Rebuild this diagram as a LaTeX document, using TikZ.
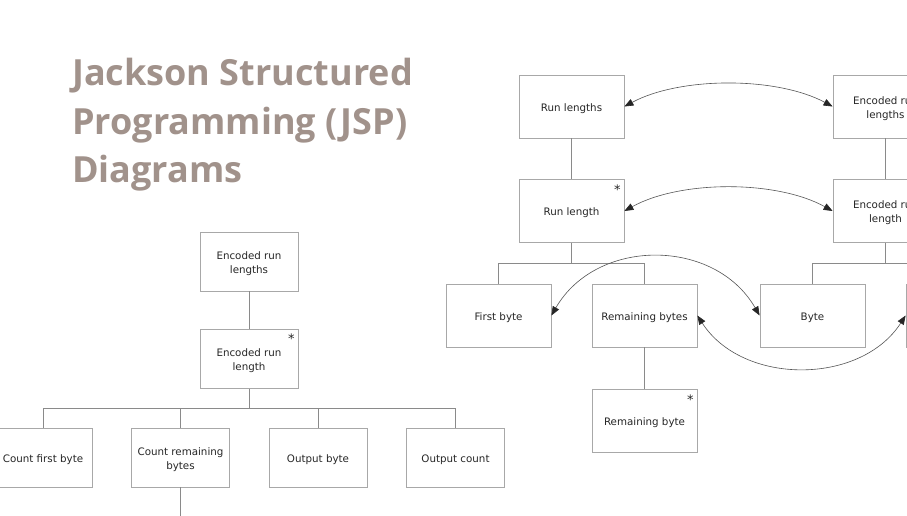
\documentclass[tikz,border=0pt]{standalone}
\usepackage{fontspec}
\setmainfont{DejaVu Sans}
\newfontfamily\titlefont{Open Sans}
\usetikzlibrary{arrows.meta,calc}
\definecolor{titlecol}{HTML}{A1928B}
\definecolor{boxline}{HTML}{A8A8A8}
\definecolor{treeline}{HTML}{8A8A8A}
\definecolor{txt}{HTML}{262626}
\definecolor{linkcol}{HTML}{555555}
\newcommand{\jspup}{\rule{0pt}{11.6pt}}
\begin{document}
\begin{tikzpicture}[x=1pt,y=-1pt,
  jbox/.style={draw=boxline, line width=0.8pt, fill=white, minimum width=105pt, minimum height=63pt, align=center, text=txt, font=\fontsize{10.3}{14}\selectfont, inner sep=0pt},
  lbox/.style={jbox, minimum width=98pt, minimum height=59pt},
  tree/.style={draw=treeline, line width=0.8pt},
  link/.style={draw=linkcol, line width=0.6pt, {Triangle[length=9pt,width=7pt,color=black!85]}-{Triangle[length=9pt,width=7pt,color=black!85]}},
  star/.style={font=\fontsize{13}{13}\selectfont, text=txt, inner sep=0pt},
  title/.style={font=\titlefont\bfseries\fontsize{36}{40}\selectfont, text=titlecol, inner sep=0pt, anchor=base west}]
\useasboundingbox (0,0) rectangle (907,515);
\clip (0,0) rectangle (907,515);
\fill[white] (0,0) rectangle (907,515);

% title
\node[title] (t1) at (72,85) {Jackson Structured};
\node[title] (t2) at (72,134) {Programming (JSP)};
\node[title] (t3) at (72,182) {Diagrams};

% right diagrams
\node[jbox] (rls) at (571.5,106.5) {\jspup Run lengths};
\node[jbox] (erls) at (885.5,106.5) {\jspup Encoded run\\lengths};
\node[jbox] (rl) at (571.5,211) {\jspup Run length};
\node[jbox] (erl) at (885.5,211) {\jspup Encoded run\\length};
\node[jbox] (fb) at (498.5,315.5) {\jspup First byte};
\node[jbox] (rbs) at (644.5,315.5) {\jspup Remaining bytes};
\node[jbox] (rb) at (644.5,420.5) {\jspup Remaining byte};
\node[jbox] (byte) at (812.5,315.5) {\jspup Byte};
\node[jbox] (cnt) at (958.5,315.5) {};

\node[star] (s1) at ($(rl.north east)+(-7,11)$) {*};
\node[star] (s2) at ($(rb.north east)+(-7,11)$) {*};

\coordinate (b1) at (571.5,263);
\coordinate (b2) at (885.5,263);
\draw[tree] (rls.south) -- (rl.north);
\draw[tree] (rl.south) -- (b1);
\draw[tree] (fb.north) |- (b1);
\draw[tree] (rbs.north) |- (b1);
\draw[tree] (rbs.south) -- (rb.north);
\draw[tree] (erls.south) -- (erl.north);
\draw[tree] (erl.south) -- (b2);
\draw[tree] (byte.north) |- (b2);
\draw[tree] (cnt.north) |- (b2);

\draw[link] (rls.east) .. controls +(56,-30) and +(-56,-30) .. (erls.west);
\draw[link] (rl.east) .. controls +(56,-31) and +(-56,-31) .. (erl.west);
\draw[link] (fb.east) .. controls +(45,-78) and +(-45,-78) .. (byte.west);
\draw[link] (rbs.east) .. controls +(45,70) and +(-45,70) .. (cnt.west);

% left diagram
\node[lbox] (lerls) at (249,261.5) {\jspup Encoded run\\lengths};
\node[lbox] (lerl) at (249,359) {\jspup Encoded run\\length};
\node[lbox] (cfb) at (43,457.5) {\jspup Count first byte};
\node[lbox] (crb) at (180.5,457.5) {\jspup Count remaining\\bytes};
\node[lbox] (ob) at (318,457.5) {\jspup Output byte};
\node[lbox] (oc) at (455.5,457.5) {\jspup Output count};
\node[star] (s3) at ($(lerl.north east)+(-7,10)$) {*};

\coordinate (b3) at (249,408);
\coordinate (crbdown) at (180.5,520);
\draw[tree] (lerls.south) -- (lerl.north);
\draw[tree] (lerl.south) -- (b3);
\draw[tree] (cfb.north) |- (b3);
\draw[tree] (crb.north) |- (b3);
\draw[tree] (ob.north) |- (b3);
\draw[tree] (oc.north) |- (b3);
\draw[tree] (crb.south) -- (crbdown);
\end{tikzpicture}
\end{document}
